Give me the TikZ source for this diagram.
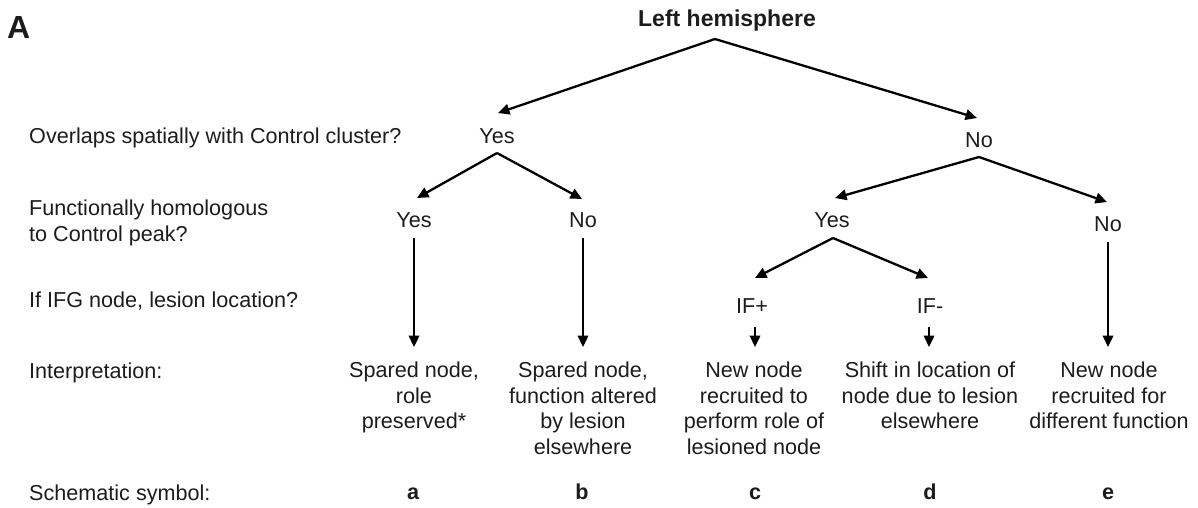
\documentclass[tikz,border=0pt]{standalone}
\usepackage{fontspec}
\setmainfont{Liberation Sans}
\usetikzlibrary{arrows.meta,calc}
\definecolor{txt}{HTML}{1C1C1C}
\begin{document}
\begin{tikzpicture}[x=1pt,y=-1pt,
  body/.style={inner sep=0pt, text=txt, font=\fontsize{21.6}{25.7}\selectfont},
  lbl/.style={body, anchor=base},
  rowlbl/.style={body, anchor=base west, align=left},
  rowlbltop/.style={body, anchor=north west, align=left},
  interp/.style={body, anchor=north, align=center},
  sym/.style={inner sep=0pt, anchor=base, text=txt, font=\fontsize{21.6}{25.7}\selectfont\bfseries},
  arr/.style={line width=2.3pt, draw=black, -{Triangle[length=11.5pt,width=10.5pt]}},
]
\useasboundingbox (0,0) rectangle (1198,507);

% panel letter and title
\node[inner sep=0pt, anchor=base west, text=txt, font=\fontsize{32}{36}\selectfont\bfseries] (panel) at (7,38) {A};
\node[inner sep=0pt, anchor=base, text=txt, font=\fontsize{23}{27}\selectfont\bfseries] (lh) at (727,26) {Left hemisphere};

% row labels
\node[rowlbl] (r1) at (29,143) {Overlaps spatially with Control cluster?};
\node[rowlbltop] (r2) at (29,199.5) {Functionally homologous\\to Control peak?};
\node[rowlbl] (r3) at (29,307) {If IFG node, lesion location?};
\node[rowlbl] (r4) at (29,378) {Interpretation:};
\node[rowlbl] (r5) at (29,500) {Schematic symbol:};

% decision labels
\node[lbl] (y1) at (497,143) {Yes};
\node[lbl] (n1) at (979,147) {No};
\node[lbl] (y2a) at (414,227) {Yes};
\node[lbl] (n2b) at (583,227) {No};
\node[lbl] (y2c) at (832,227) {Yes};
\node[lbl] (n2e) at (1108,231) {No};
\node[lbl] (ifp) at (752,313) {IF+};
\node[lbl] (ifm) at (930,313) {IF-};

% interpretations (top of first line at y = 361.5)
\node[interp] (ia) at (414,361.5) {Spared node,\\role\\preserved*};
\node[interp] (ib) at (583,361.5) {Spared node,\\function altered\\by lesion\\elsewhere};
\node[interp] (ic) at (754,361.5) {New node\\recruited to\\perform role of\\lesioned node};
\node[interp] (id) at (930,361.5) {Shift in location of\\node due to lesion\\elsewhere};
\node[interp] (ie) at (1109,361.5) {New node\\recruited for\\different function};

% schematic symbols
\node[sym] (sa) at (413,499) {a};
\node[sym] (sb) at (582,499) {b};
\node[sym] (sc) at (755,499) {c};
\node[sym] (sd) at (930,499) {d};
\node[sym] (se) at (1108,499) {e};

% connectors
\draw[arr] ($(lh.base)+(-12,13)$) -- ($(y1.base)+(1,-30)$);
\draw[arr] ($(lh.base)+(-12,13)$) -- ($(n1.base)+(-2,-29)$);
\draw[arr] ($(y1.base)+(0,10)$) -- ($(y2a.base)+(3,-29)$);
\draw[arr] ($(y1.base)+(0,10)$) -- ($(n2b.base)+(-1,-28)$);
\draw[arr] ($(n1.base)+(0,10)$) -- ($(y2c.base)+(3,-29)$);
\draw[arr] ($(n1.base)+(0,10)$) -- ($(n2e.base)+(-1,-29)$);
\draw[arr] ($(y2c.base)+(1,11)$) -- ($(ifp.base)+(3,-35)$);
\draw[arr] ($(y2c.base)+(1,11)$) -- ($(ifm.base)+(-2,-35)$);
\draw[arr] ($(y2a.base)+(0,11)$) -- ($(ia.north)+(0,-14.5)$);
\draw[arr] ($(n2b.base)+(0,11)$) -- ($(ib.north)+(0,-14.5)$);
\draw[arr] ($(ifp.base)+(3,14)$) -- ($(ic.north)+(1,-14.5)$);
\draw[arr] ($(ifm.base)+(-1,14)$) -- ($(id.north)+(-1,-14.5)$);
\draw[arr] ($(n2e.base)+(0,11)$) -- ($(ie.north)+(-1,-14.5)$);
\end{tikzpicture}
\end{document}
